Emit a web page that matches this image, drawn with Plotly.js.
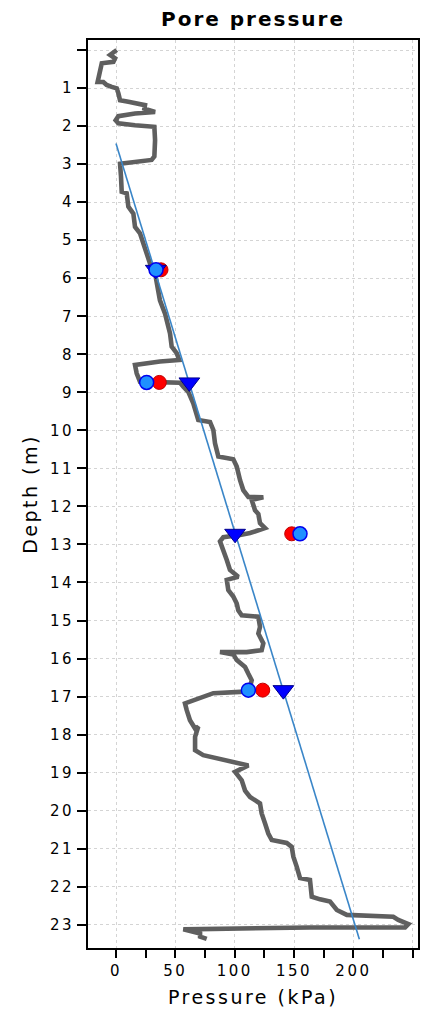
<!DOCTYPE html>
<html>
<head>
<meta charset="utf-8">
<script src="https://cdn.plot.ly/plotly-3.0.1.min.js"></script>
<style>
  html, body { margin: 0; padding: 0; background: #fff; }
  #chart { width: 427px; height: 1016px; }
  #chart text { letter-spacing: 2.5px; }
  #chart .gtitle { letter-spacing: 2px; }
</style>
</head>
<body>
<div id="chart"></div>
<script>
// Measured pore pressure profile (kPa vs depth m)
const profilePressure = [0.6,-3.6,-5,-0.8,-2.2,-12,-13.5,-15,-15.5,-10.7,-7.9,-3.6,0.6,2,3.4,10.4,18.8,24.4,23.9,32.9,16,2,-0.3,2,16,32.3,32.9,32.3,30,16,3.4,4.2,4.8,9,10.4,14.6,16,20.2,23,25.9,28.6,32.9,35,37,41.3,43.5,45.5,46.9,51.1,53.3,37,16,17.4,20.2,53.9,56.7,60.9,65.1,69.3,79.2,82,83.4,86.2,98.8,101.7,104.5,107.2,111.5,124.1,114.3,117.1,119.9,121.3,125.5,118.5,112.9,104.5,90.4,87.6,90.4,93.3,96,103,93.3,94.6,98.8,101.7,103,105.9,119.9,121.3,119.9,124.1,122.7,110.1,87.6,98.8,101.7,108.7,111.5,114.3,112.9,108.7,82,73.5,58.1,59.5,62.3,66.6,69.3,66.6,66.6,73.5,87.6,100.3,111.5,100.3,105.9,108.7,112.9,121.3,122.7,125.5,128.3,131.2,143.8,148,149.4,152.2,155,163.4,164.9,171.9,180.3,186,194.4,233.6,237.8,246.3,243.5,163.4,118.5,56.7,70.8,70.8,76.4];
const profileDepth = [0.00,0.09,0.13,0.22,0.31,0.35,0.53,0.70,0.84,0.84,0.92,0.97,1.01,1.14,1.32,1.36,1.41,1.45,1.54,1.63,1.67,1.74,1.85,1.93,1.98,2.02,2.37,2.80,2.89,2.94,2.99,3.33,3.73,3.77,4.12,4.30,4.65,4.82,5.08,5.34,5.61,5.87,6.22,6.58,6.93,7.15,7.45,7.80,7.97,8.15,8.19,8.28,8.50,8.72,8.75,8.85,8.99,9.29,9.73,9.78,9.99,10.34,10.69,10.76,10.95,11.31,11.57,11.75,11.76,11.83,12.10,12.20,12.44,12.57,12.66,12.70,12.75,12.81,12.92,13.14,13.41,13.67,13.85,13.93,14.20,14.37,14.55,14.73,14.86,14.90,15.17,15.34,15.60,15.78,15.83,15.83,15.89,16.04,16.22,16.40,16.57,16.75,16.87,16.91,17.00,17.18,17.35,17.62,17.84,17.79,18.06,18.41,18.54,18.63,18.72,18.81,18.98,19.20,19.47,19.64,19.81,20.07,20.33,20.60,20.77,20.85,20.95,21.21,21.47,21.77,21.82,22.26,22.33,22.39,22.61,22.74,22.79,22.87,22.98,23.07,23.07,23.10,23.12,23.23,23.31,23.37];

// Hydrostatic line end points
const hydroPressure = [0, 205];
const hydroDepth = [2.46, 23.38];

// Point measurements
const pointDepth = [5.78, 8.74, 12.72, 16.83];
const redPressure = [37.9, 36.5, 148, 123.6];
const bluePressure = [33.7, 25.8, 155, 111.5];
const trianglePressure = [33.5, 61.8, 100.3, 141];

// Axis ticks
const xTickVals = [0, 50, 100, 150, 200, 250];
const xTickText = ['0', '50', '100', '150', '200', ''];
const yTickVals = [0,1,2,3,4,5,6,7,8,9,10,11,12,13,14,15,16,17,18,19,20,21,22,23];
const yTickText = ['', '1','2','3','4','5','6','7','8','9','10','11','12','13','14','15','16','17','18','19','20','21','22','23'];

const FONT = 'DejaVu Sans, Verdana, sans-serif';

const traces = [
  {
    x: profilePressure, y: profileDepth, type: 'scatter', mode: 'lines',
    line: {color: '#5f5f5f', width: 4.6}, hoverinfo: 'skip', showlegend: false
  },
  {
    x: hydroPressure, y: hydroDepth, type: 'scatter', mode: 'lines',
    line: {color: '#3a86c8', width: 1.6}, showlegend: false
  },
  {
    x: redPressure, y: pointDepth, type: 'scatter', mode: 'markers',
    marker: {symbol: 'circle', size: 14, color: '#ff0000', line: {color: '#c00000', width: 1}},
    showlegend: false
  },
  {
    x: trianglePressure, y: pointDepth, type: 'scatter', mode: 'markers',
    marker: {symbol: 'triangle-down', size: 18, color: '#0000ff', line: {color: '#00008b', width: 1}},
    showlegend: false
  },
  {
    x: bluePressure, y: pointDepth, type: 'scatter', mode: 'markers',
    marker: {symbol: 'circle', size: 14, color: '#1e90ff', line: {color: '#0000ee', width: 1.5}},
    showlegend: false
  }
];

const layout = {
  width: 427, height: 1016,
  margin: {l: 88, r: 9, t: 40, b: 68},
  paper_bgcolor: '#ffffff', plot_bgcolor: '#ffffff',
  font: {family: FONT, color: '#000000'},
  title: {
    text: '<b>Pore pressure</b>',
    font: {family: FONT, size: 20, color: '#000000'},
    x: 0.5, xref: 'paper', xanchor: 'center',
    y: 0.981, yref: 'container', yanchor: 'middle'
  },
  xaxis: {
    range: [-23.6, 254.4],
    tickmode: 'array', tickvals: xTickVals, ticktext: xTickText,
    ticks: 'outside', ticklen: 8, tickwidth: 2, tickcolor: '#000',
    minor: {tickmode: 'linear', tick0: 0, dtick: 25, ticks: 'outside', ticklen: 8, tickwidth: 2, tickcolor: '#000', showgrid: false},
    tickfont: {family: FONT, size: 15, color: '#000'},
    showline: true, linecolor: '#000', linewidth: 2, mirror: true,
    showgrid: true, gridcolor: '#d4d4d4', griddash: 'dot', gridwidth: 1,
    zeroline: false,
    title: {text: 'Pressure (kPa)', font: {family: FONT, size: 19, color: '#000'}, standoff: 12}
  },
  yaxis: {
    range: [23.61, -0.263],
    tickmode: 'array', tickvals: yTickVals, ticktext: yTickText,
    ticks: 'outside', ticklen: 9, tickwidth: 2, tickcolor: '#000',
    tickfont: {family: FONT, size: 15, color: '#000'},
    showline: true, linecolor: '#000', linewidth: 2, mirror: true,
    showgrid: true, gridcolor: '#d4d4d4', griddash: 'dot', gridwidth: 1,
    zeroline: false,
    title: {text: 'Depth (m)', font: {family: FONT, size: 19, color: '#000'}, standoff: 12}
  }
};

Plotly.newPlot('chart', traces, layout, {displayModeBar: false, staticPlot: true});
</script>
</body>
</html>
